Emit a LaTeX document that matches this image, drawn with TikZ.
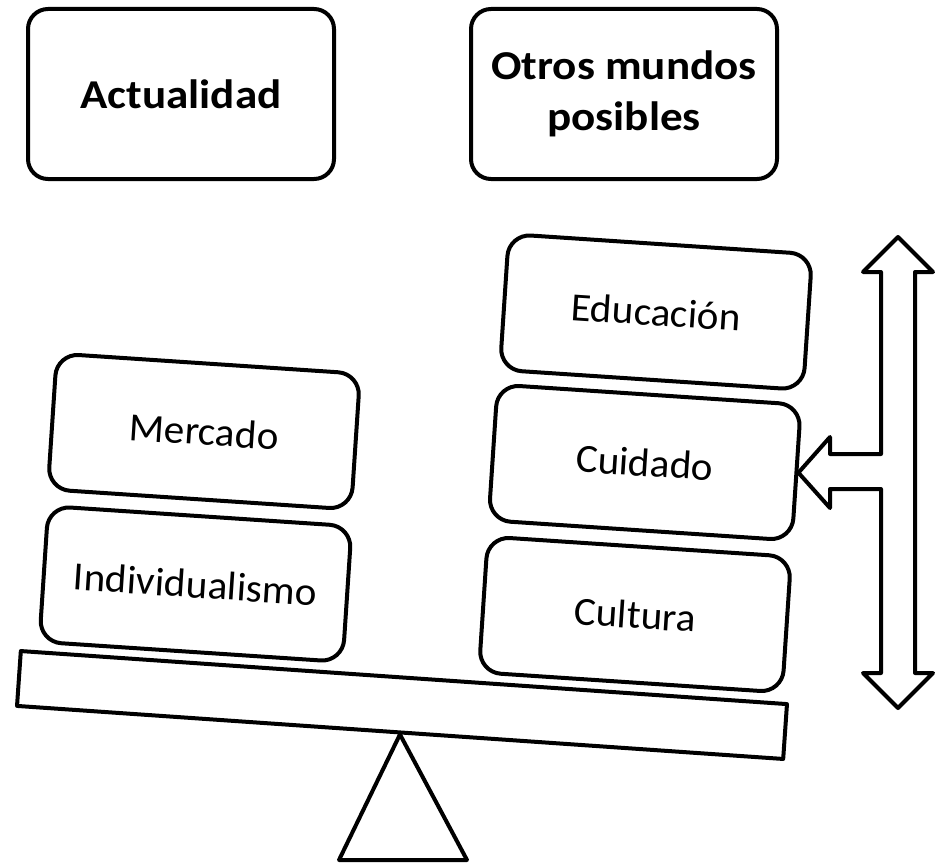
\documentclass[tikz,border=0pt]{standalone}
\usepackage{fontspec}
\setmainfont{Carlito}[FakeStretch=1.03]
\newfontfamily\titlefont{Carlito}[FakeStretch=1.1]
\begin{document}
\begin{tikzpicture}[x=1pt,y=-1pt,
  line width=4pt, line join=round,
  titlebox/.style={draw, rounded corners=20pt, minimum width=306pt, minimum height=170pt,
    inner sep=0pt, align=center, font=\titlefont\bfseries\fontsize{41}{51.6}\selectfont},
  block/.style={draw, rounded corners=22pt, minimum width=304pt, minimum height=136pt,
    inner sep=0pt, rotate=-3.8, font=\fontsize{40}{48}\selectfont},
  beamstyle/.style={draw, minimum width=768pt, minimum height=55pt, inner sep=0pt, rotate=-3.96},
]
\useasboundingbox (0,0) rectangle (941,867);

\node[titlebox] (act) at (181,94) {Actualidad};
\node[titlebox] (otros) at (624,94) {Otros mundos\\posibles};

\node[block] (merc) at (204,431.5) {Mercado};
\node[block] (indiv) at (195.5,584) {Individualismo};
\node[block] (educ) at (656,312) {Educación};
\node[block] (cuid) at (644.75,462.5) {Cuidado};
\node[block] (cult) at (635,614.5) {Cultura};

\node[beamstyle] (beam) at (402,705) {};
\draw (beam.south) -- (467,860) -- (339,860) -- cycle;

\draw (898,237) -- (933,272) -- (915,272) -- (915,673) -- (933,673) -- (898,708)
  -- (863,673) -- (881,673) -- (881,489) -- (830,489) -- (830,508) -- (cuid.east)
  -- (830,437) -- (830,454) -- (881,454) -- (881,272) -- (863,272) -- cycle;
\end{tikzpicture}
\end{document}
